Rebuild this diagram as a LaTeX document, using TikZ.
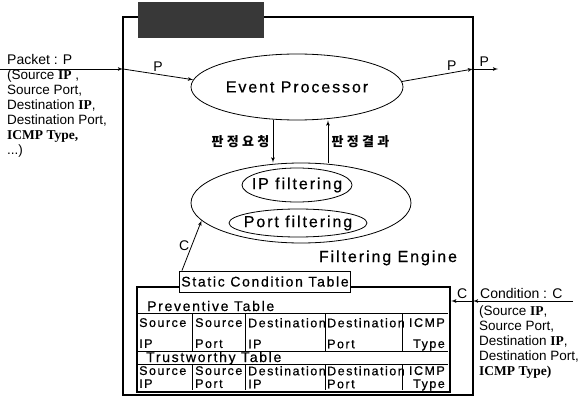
\documentclass[tikz,border=0pt]{standalone}
\usepackage{fontspec}
\setmainfont{Liberation Sans}
\newfontfamily\widesans[LetterSpace=12, FakeBold=0.6]{Liberation Sans}
\newfontfamily\boldserif{Liberation Serif}
\newfontfamily\krfont[LetterSpace=25]{Noto Sans CJK KR}
\usepackage{tikz}
\usetikzlibrary{shapes.geometric, arrows, positioning}

\begin{document}
\begin{tikzpicture}[x=1pt, y=-1pt, node distance=116pt]
    \tikzstyle{frame} = [draw, line width=2.2pt]
    \tikzstyle{oval} = [ellipse, draw, line width=0.8pt, inner sep=0pt]
    \tikzstyle{ovaltext} = [font=\widesans\fontsize{16}{16}\selectfont]
    \tikzstyle{line} = [draw, -latex', line width=0.8pt]
    \tikzstyle{tag} = [font=\fontsize{14}{15}\selectfont, inner sep=2pt]
    \tikzstyle{judge} = [font=\krfont\bfseries\fontsize{13}{13}\selectfont]
    \tikzstyle{info} = [font=\fontsize{13.5}{15}\selectfont, align=left, inner sep=0pt, anchor=north west]
    \tikzstyle{header} = [font=\widesans\fontsize{14}{14}\selectfont, inner sep=0pt, anchor=base west]
    \tikzstyle{cell} = [font=\widesans\fontsize{12.5}{21}\selectfont, align=left, inner sep=0pt, anchor=north west]

    \useasboundingbox (0,0) rectangle (583,401);

    % system boundary with its dark title plate
    \draw [frame] (123,17) rectangle (473,395);
    \node [fill=black!78, minimum width=126pt, minimum height=36pt, inner sep=0pt, anchor=north west] (title) at (138,2) {};

    \node [oval, minimum width=212pt, minimum height=66pt, label={[ovaltext]center:Event Processor}] (evp) at (297,87) {};
    \node [oval, minimum width=220pt, minimum height=80pt, below of=evp, xshift=4pt] (eng) {};
    \node [oval, minimum width=110pt, minimum height=34pt, label={[ovaltext]center:IP filtering}] (ipf) at (297,185) {};
    \node [oval, minimum width=138pt, minimum height=28pt, label={[ovaltext]center:Port filtering}] (ptf) at (298,223) {};
    \node [ovaltext, anchor=base] (englbl) at (388,262) {Filtering Engine};

    % condition tables
    \node [frame, minimum width=313pt, minimum height=105pt, inner sep=0pt, anchor=north west] (tbl) at (136,286) {};
    \node [draw, fill=white, line width=0.8pt, font=\widesans\fontsize{14}{14}\selectfont, minimum height=21pt, inner sep=2pt] (sct) at (265,281.5) {Static Condition Table};
    \node [header] (prevhdr) at (147,311) {Preventive Table};
    \node [header] (trusthdr) at (146,362) {Trustworthy Table};
    \foreach \y in {313,351,364} \draw [line width=0.7pt] (137,\y) -- (448,\y);
    \foreach \x in {192,245,325,402} {
        \draw [line width=0.7pt] (\x,313) -- (\x,351);
        \draw [line width=0.7pt] (\x,364) -- (\x,390);
    }
    \foreach \x/\a/\b [count=\i] in {139/Source/IP, 195/Source/Port, 248/Destination/IP, 327/Destination/Port} {
        \node [cell] (prev\i) at (\x,318) {\a\\\b};
        \node [cell, font=\widesans\fontsize{12.5}{13}\selectfont] (trust\i) at (\x,366) {\a\\\b};
    }
    \node [cell, align=right, anchor=north east] (prev5) at (445,318) {ICMP\\Type};
    \node [cell, align=right, anchor=north east, font=\widesans\fontsize{12.5}{13}\selectfont] (trust5) at (445,366) {ICMP\\Type};

    % inputs and outputs
    \node [tag, anchor=base west, inner sep=0pt] (pkt) at (7,65) {Packet : P};
    \node [info] (pktinfo) at (7,70) {(Source \textbf{\boldserif IP} ,\\Source Port,\\Destination \textbf{\boldserif IP},\\Destination Port,\\\textbf{\boldserif ICMP Type,}\\...)};
    \node [tag, anchor=base west, inner sep=0pt] (cond) at (480,298) {Condition : C};
    \node [info] (condinfo) at (479,306) {(Source \textbf{\boldserif IP},\\Source Port,\\Destination \textbf{\boldserif IP},\\Destination Port,\\\textbf{\boldserif ICMP Type)}};

    \coordinate (pin) at (0,69);
    \coordinate (pgate) at (123,69);
    \coordinate (pgo) at (473,69);
    \coordinate (pout) at (498,69);
    \coordinate (cin) at (573,301);
    \coordinate (cgate) at (473,301);

    \path [line] (pin) -- (pgate);
    \path [line] (pgate) -- node [tag, above] (plbl1) {P} (evp.176);
    \path [line] (evp.3) -- node [tag, above, pos=0.7] (plbl2) {P} (pgo);
    \path [line] (pgo) -- node [tag, above, pos=0.45] (plbl3) {P} (pout);
    \path [line] (evp.south -| 273,0) -- node [judge, left] (reqlbl) {판정요청} (eng.north -| 273,0);
    \path [line] (eng.north -| 328,0) -- node [judge, right] (reslbl) {판정결과} (evp.south -| 328,0);
    \path [line] ([xshift=3pt]sct.north west) -- node [tag, left] (clbl1) {C} (eng.190);
    \path [line] (cin) -- (cgate);
    \path [line] (cgate) -- node [tag, above] (clbl2) {C} (tbl.east |- cgate);
\end{tikzpicture}
\end{document}
